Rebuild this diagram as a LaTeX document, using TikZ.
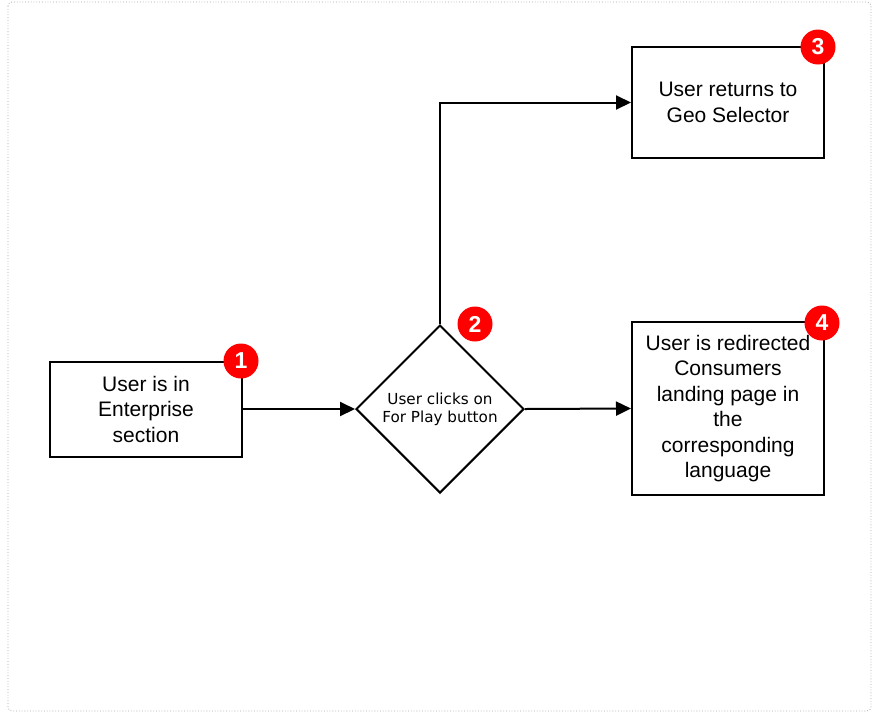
\documentclass[tikz,border=0pt]{standalone}
\usepackage{fontspec}
\setmainfont{Liberation Sans}
\newfontfamily\dejavu{DejaVu Sans}
\usetikzlibrary{shapes.geometric,arrows.meta}
\begin{document}
\begin{tikzpicture}[x=1pt,y=-1pt,
  stepbox/.style={draw=black,line width=2pt,minimum width=192pt,align=center,
    font=\fontsize{21}{25.5}\selectfont,inner sep=0pt,fill=white},
  decision/.style={draw=black,line width=2pt,diamond,minimum width=168pt,minimum height=168pt,
    inner sep=0pt,align=center,font=\dejavu\fontsize{15.2}{18}\selectfont,fill=white},
  badge/.style={circle,fill=red,text=white,minimum size=35pt,inner sep=0pt,
    font=\bfseries\fontsize{23}{23}\selectfont},
  conn/.style={line width=2pt,-{Triangle[length=15pt,width=14pt]}}]
\useasboundingbox (0,0) rectangle (873,713);
\draw[gray!70,line width=0.8pt,dotted,rounded corners=4pt] (8,2) rectangle (871,711);
\node[stepbox,minimum height=95pt] (s1) at (146,409) {User is in\\Enterprise\\section};
\node[decision] (d2) at (440,409) {User clicks on\\For Play button};
\node[stepbox,minimum height=111pt] (s3) at (728,102.5) {User returns to\\Geo Selector};
\node[stepbox,minimum height=173pt] (s4) at (728,408.5) {User is redirected\\Consumers\\landing page in\\the\\corresponding\\language};
\coordinate (bend) at (d2.north |- s3.west);
\draw[conn] (s1.east) -- (d2.west);
\draw[conn] (d2.east) -- (s4.west);
\draw[conn] (d2.north) -- (bend) -- (s3.west);
\node[badge] (b1) at (241,361) {1};
\node[badge] (b2) at (475,324) {2};
\node[badge] (b3) at (818,47) {3};
\node[badge] (b4) at (822,323) {4};
\end{tikzpicture}
\end{document}
